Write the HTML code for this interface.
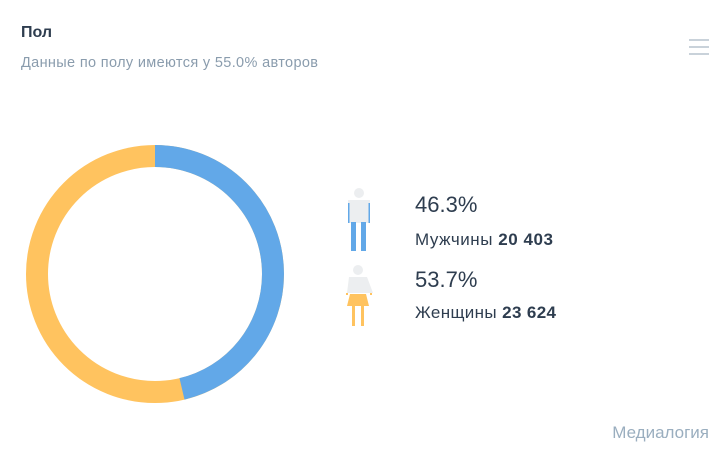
<!DOCTYPE html>
<html><head><meta charset="utf-8"><style>
body{margin:0;width:719px;height:452px;background:#fff;font-family:"Liberation Sans",sans-serif;overflow:hidden}
</style></head><body>
<svg width="719" height="452" xmlns="http://www.w3.org/2000/svg" font-family="Liberation Sans, sans-serif">
<text x="21" y="37" font-size="16" font-weight="bold" fill="#2e3d4f">Пол</text>
<text x="21" y="67" font-size="14.5" fill="#8a9cad" textLength="297">Данные по полу имеются у 55.0% авторов</text>
<g fill="#c9d2da"><rect x="689" y="39" width="20" height="2"/><rect x="689" y="46" width="20" height="2"/><rect x="689" y="53" width="20" height="2"/></g>
<circle cx="155" cy="274" r="118" fill="none" stroke="#ffc35f" stroke-width="22"/>
<circle cx="155" cy="274" r="118" fill="none" stroke="#62a8e8" stroke-width="22" stroke-dasharray="343.3 800" transform="rotate(-90 155 274)"/>
<circle cx="359" cy="193" r="5" fill="#eceef0"/>
<rect x="348" y="200" width="22" height="23" fill="#eceef0"/>
<rect x="348" y="203" width="1.5" height="20" fill="#62a8e8"/>
<rect x="368.5" y="203" width="1.5" height="20" fill="#62a8e8"/>
<rect x="351" y="222" width="5" height="29" fill="#62a8e8"/>
<rect x="361" y="222" width="5" height="29" fill="#62a8e8"/>
<circle cx="358" cy="270" r="5" fill="#eceef0"/>
<polygon points="349,277 367,277 373,293 347,293" fill="#eceef0"/>
<polygon points="350,294 366,294 369,306 347,306" fill="#ffc35f"/>
<rect x="346" y="293" width="2" height="2" fill="#ffc35f"/><rect x="370" y="293" width="2" height="2" fill="#ffc35f"/>
<rect x="352" y="306" width="3" height="20" fill="#ffc35f"/>
<rect x="361" y="306" width="3" height="20" fill="#ffc35f"/>
<text x="415" y="212" font-size="22" fill="#2e3d4f">46.3%</text>
<text x="415" y="245" font-size="17" fill="#2e3d4f" textLength="138">Мужчины <tspan font-weight="bold">20 403</tspan></text>
<text x="415" y="287" font-size="22" fill="#2e3d4f">53.7%</text>
<text x="415" y="318" font-size="17" fill="#2e3d4f" textLength="141">Женщины <tspan font-weight="bold">23 624</tspan></text>
<text x="709" y="438" font-size="17" fill="#9aaebf" text-anchor="end">Медиалогия</text>
</svg>
</body></html>
